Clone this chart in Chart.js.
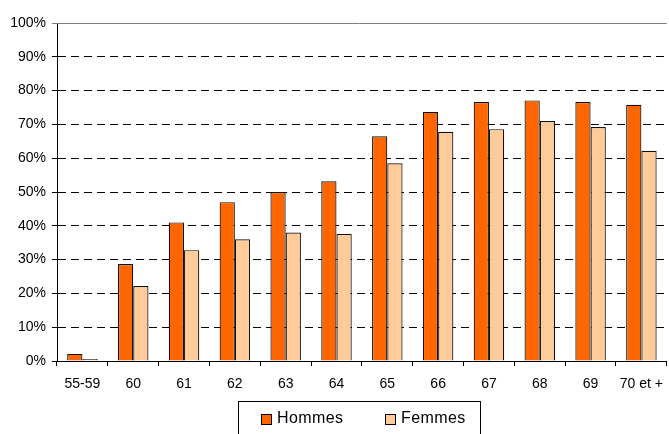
<!DOCTYPE html>
<html>
<head>
<meta charset="utf-8">
<title>Hommes / Femmes par âge</title>
<script src="https://cdn.jsdelivr.net/npm/chart.js"></script>
<style>
  body { margin: 0; overflow: hidden; background: #fff; font-family: 'Liberation Sans', Arial, sans-serif; }
  #wrap { position: absolute; left: 0; top: 0; width: 669px; height: 434px; overflow: hidden; }
  #chart { position: absolute; left: 0; top: 0; }
  #legend {
    position: absolute; left: 238px; top: 401px; width: 243px; height: 40px;
    border: 1px solid #000; box-sizing: border-box; font-size: 16px; letter-spacing: 0.4px;
  }
  .item { position: absolute; top: 7px; display: flex; align-items: center; }
  .box { width: 9px; height: 9px; border: 1px solid #000; margin-right: 5px; margin-top: 2px; }
</style>
</head>
<body>
<div id="wrap">
  <canvas id="chart" width="673" height="434"></canvas>
  <div id="legend"></div>
</div>
<script>
  const ages = ['55-59', '60', '61', '62', '63', '64', '65', '66', '67', '68', '69', '70 et +'];
  const hommes = [2.1, 28.7, 41, 47, 50, 53.2, 66.5, 73.7, 76.6, 77.1, 76.6, 75.8];
  const femmes = [0.5, 22.2, 32.8, 36, 38, 37.6, 58.5, 67.8, 68.6, 71, 69.2, 62.2];

  const colors = ['#FF6600', '#FFCC99'];
  const labels = ['Hommes', 'Femmes'];

  // solid line at 100%
  const topLine = {
    id: 'topLine',
    afterDraw(chart) {
      const { ctx, chartArea, scales } = chart;
      const y = Math.round(scales.y.getPixelForValue(100)) + 0.5;
      ctx.save();
      ctx.strokeStyle = '#808080';
      ctx.lineWidth = 1;
      ctx.beginPath();
      ctx.moveTo(chartArea.left - 5, y);
      ctx.lineTo(chartArea.right, y);
      ctx.stroke();
      ctx.restore();
    }
  };

  new Chart(document.getElementById('chart'), {
    type: 'bar',
    data: {
      labels: ages,
      datasets: [
        { label: labels[0], data: hommes, backgroundColor: colors[0], borderColor: '#111', borderWidth: 1.2, minBarLength: 2 },
        { label: labels[1], data: femmes, backgroundColor: colors[1], borderColor: '#111', borderWidth: 1.2, minBarLength: 2 }
      ]
    },
    options: {
      responsive: false,
      animation: false,
      devicePixelRatio: 1,
      categoryPercentage: 0.6,
      barPercentage: 1.0,
      layout: { padding: { top: 23, left: 0, right: 0, bottom: 0 } },
      plugins: { legend: { display: false }, tooltip: { enabled: false } },
      scales: {
        x: {
          afterFit: (s) => { s.height = 73; },
          grid: { display: true, drawOnChartArea: false, drawTicks: true, tickLength: 5, color: '#000', offset: true },
          border: { display: true, color: '#000', width: 1 },
          ticks: { color: '#000', padding: 10, font: { family: "'Liberation Sans', Arial", size: 14 }, maxRotation: 0, autoSkip: false }
        },
        y: {
          min: 0, max: 100,
          afterFit: (s) => { s.width = 57; },
          grid: {
            color: (c) => c.tick.value === 100 || c.tick.value === 0 ? 'rgba(0,0,0,0)' : '#000',
            tickColor: '#000',
            tickBorderDash: [],
            tickLength: 5
          },
          border: { display: true, color: '#000', width: 1, dash: [8, 5] },
          ticks: {
            stepSize: 10, color: '#000', padding: 6,
            font: { family: "'Liberation Sans', Arial", size: 14 },
            callback: (v) => v + '%'
          }
        }
      }
    },
    plugins: [topLine]
  });

  // legend drawn as html, from the same labels/colors
  const legend = document.getElementById('legend');
  const lefts = [22, 146];
  labels.forEach((l, i) => {
    const it = document.createElement('div');
    it.className = 'item';
    it.style.left = lefts[i] + 'px';
    it.innerHTML = '<span class="box" style="background:' + colors[i] + '"></span><span>' + l + '</span>';
    legend.appendChild(it);
  });
</script>
</body>
</html>
